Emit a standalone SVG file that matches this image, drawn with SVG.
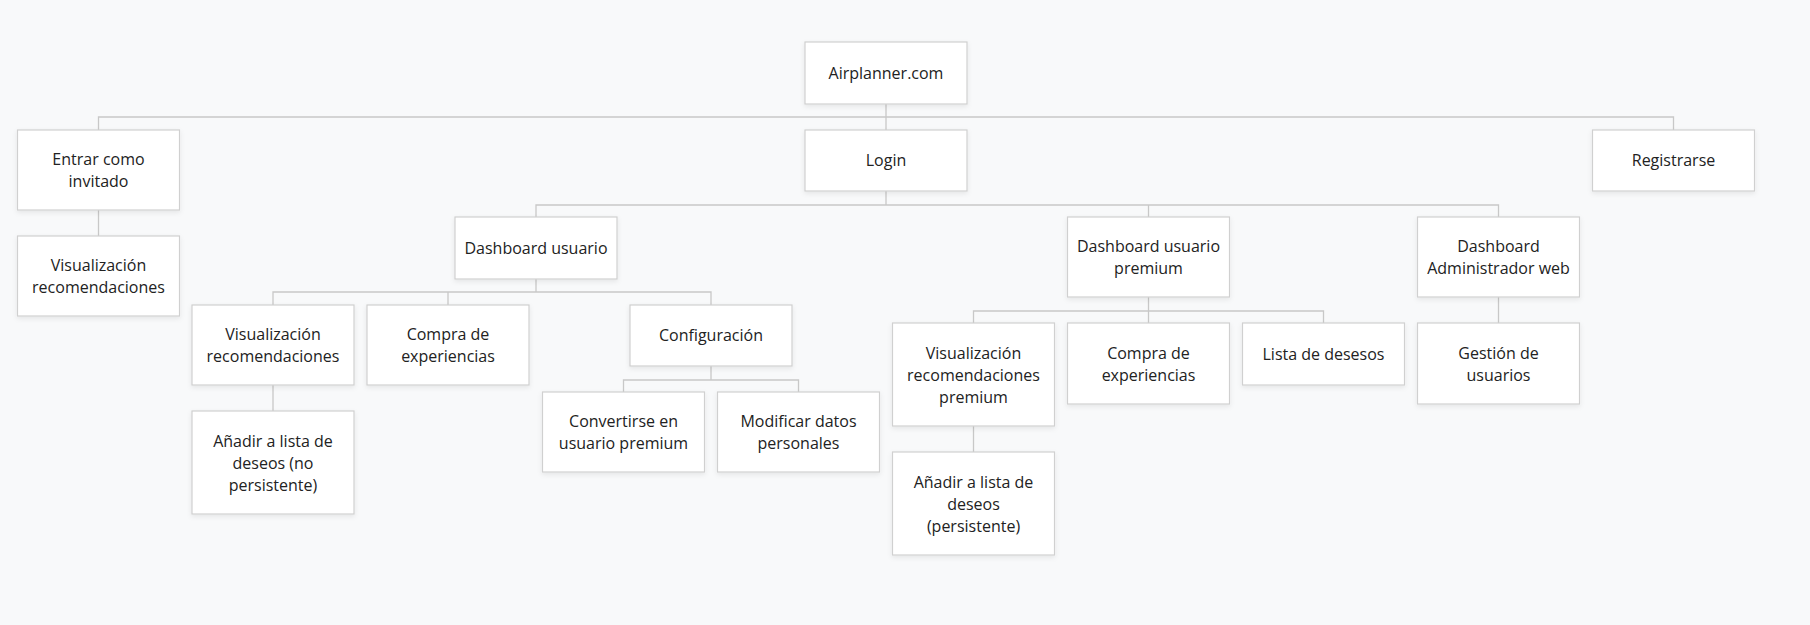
<svg xmlns="http://www.w3.org/2000/svg" width="1810" height="625" viewBox="0 0 1810 625">
<defs>
<filter id="sh" x="-10%" y="-10%" width="120%" height="130%">
<feDropShadow dx="0" dy="2" stdDeviation="2.5" flood-color="#000" flood-opacity="0.08"/>
</filter>
<style>
.box{fill:#ffffff;stroke:#d0d0d0;stroke-width:1.2;filter:url(#sh)}
.t{font-family:"Open Sans","Noto Sans","Liberation Sans",sans-serif;font-size:16px;fill:#222;text-anchor:middle}
.c{fill:none;stroke:#c8c8c8;stroke-width:1.3}
</style>
</defs>
<rect width="1810" height="625" fill="#f8f9fa"/>
<g id="connectors">
<path class="c" d="M886 104V117M98.5 130V117H1673.5V130M886 117V130"/>
<path class="c" d="M886 191V205M536 217V205H1498.5V217M1148.5 205V217"/>
<path class="c" d="M98.5 210V236"/>
<path class="c" d="M536 279V292M273 305V292H711V305M448 292V305"/>
<path class="c" d="M273 385V411"/>
<path class="c" d="M711 366V380M623.5 392V380H798.5V392"/>
<path class="c" d="M1148.5 297V311M973.5 323V311H1323.5V323M1148.5 311V323"/>
<path class="c" d="M973.5 426V452"/>
<path class="c" d="M1498.5 297V323"/>
</g>
<g id="n-airplanner"><rect class="box" x="805" y="42" width="162" height="62"/><text class="t" x="886" y="78.5">Airplanner.com</text></g>
<g id="n-entrar"><rect class="box" x="17.5" y="130" width="162" height="80"/><text class="t" x="98.5" y="165">Entrar como</text><text class="t" x="98.5" y="187">invitado</text></g>
<g id="n-login"><rect class="box" x="805" y="130" width="162" height="61"/><text class="t" x="886" y="166">Login</text></g>
<g id="n-registrarse"><rect class="box" x="1592.5" y="130" width="162" height="61"/><text class="t" x="1673.5" y="166">Registrarse</text></g>
<g id="n-vis-guest"><rect class="box" x="17.5" y="236" width="162" height="80"/><text class="t" x="98.5" y="271">Visualización</text><text class="t" x="98.5" y="293">recomendaciones</text></g>
<g id="n-dash-user"><rect class="box" x="455" y="217" width="162" height="62"/><text class="t" x="536" y="253.5">Dashboard usuario</text></g>
<g id="n-dash-premium"><rect class="box" x="1067.5" y="217" width="162" height="80"/><text class="t" x="1148.5" y="252">Dashboard usuario</text><text class="t" x="1148.5" y="274">premium</text></g>
<g id="n-dash-admin"><rect class="box" x="1417.5" y="217" width="162" height="80"/><text class="t" x="1498.5" y="252">Dashboard</text><text class="t" x="1498.5" y="274">Administrador web</text></g>
<g id="n-vis-user"><rect class="box" x="192" y="305" width="162" height="80"/><text class="t" x="273" y="340">Visualización</text><text class="t" x="273" y="362">recomendaciones</text></g>
<g id="n-compra-user"><rect class="box" x="367" y="305" width="162" height="80"/><text class="t" x="448" y="340">Compra de</text><text class="t" x="448" y="362">experiencias</text></g>
<g id="n-config"><rect class="box" x="630" y="305" width="162" height="61"/><text class="t" x="711" y="341">Configuración</text></g>
<g id="n-convertirse"><rect class="box" x="542.5" y="392" width="162" height="80"/><text class="t" x="623.5" y="427">Convertirse en</text><text class="t" x="623.5" y="449">usuario premium</text></g>
<g id="n-modificar"><rect class="box" x="717.5" y="392" width="162" height="80"/><text class="t" x="798.5" y="427">Modificar datos</text><text class="t" x="798.5" y="449">personales</text></g>
<g id="n-anadir-np"><rect class="box" x="192" y="411" width="162" height="103"/><text class="t" x="273" y="446.5">Añadir a lista de</text><text class="t" x="273" y="468.5">deseos (no</text><text class="t" x="273" y="490.5">persistente)</text></g>
<g id="n-vis-premium"><rect class="box" x="892.5" y="323" width="162" height="103"/><text class="t" x="973.5" y="358.5">Visualización</text><text class="t" x="973.5" y="380.5">recomendaciones</text><text class="t" x="973.5" y="402.5">premium</text></g>
<g id="n-compra-premium"><rect class="box" x="1067.5" y="323" width="162" height="81"/><text class="t" x="1148.5" y="358.5">Compra de</text><text class="t" x="1148.5" y="380.5">experiencias</text></g>
<g id="n-lista"><rect class="box" x="1242.5" y="323" width="162" height="62"/><text class="t" x="1323.5" y="359.5">Lista de desesos</text></g>
<g id="n-gestion"><rect class="box" x="1417.5" y="323" width="162" height="81"/><text class="t" x="1498.5" y="358.5">Gestión de</text><text class="t" x="1498.5" y="380.5">usuarios</text></g>
<g id="n-anadir-p"><rect class="box" x="892.5" y="452" width="162" height="103"/><text class="t" x="973.5" y="487.5">Añadir a lista de</text><text class="t" x="973.5" y="509.5">deseos</text><text class="t" x="973.5" y="531.5">(persistente)</text></g>
</svg>
